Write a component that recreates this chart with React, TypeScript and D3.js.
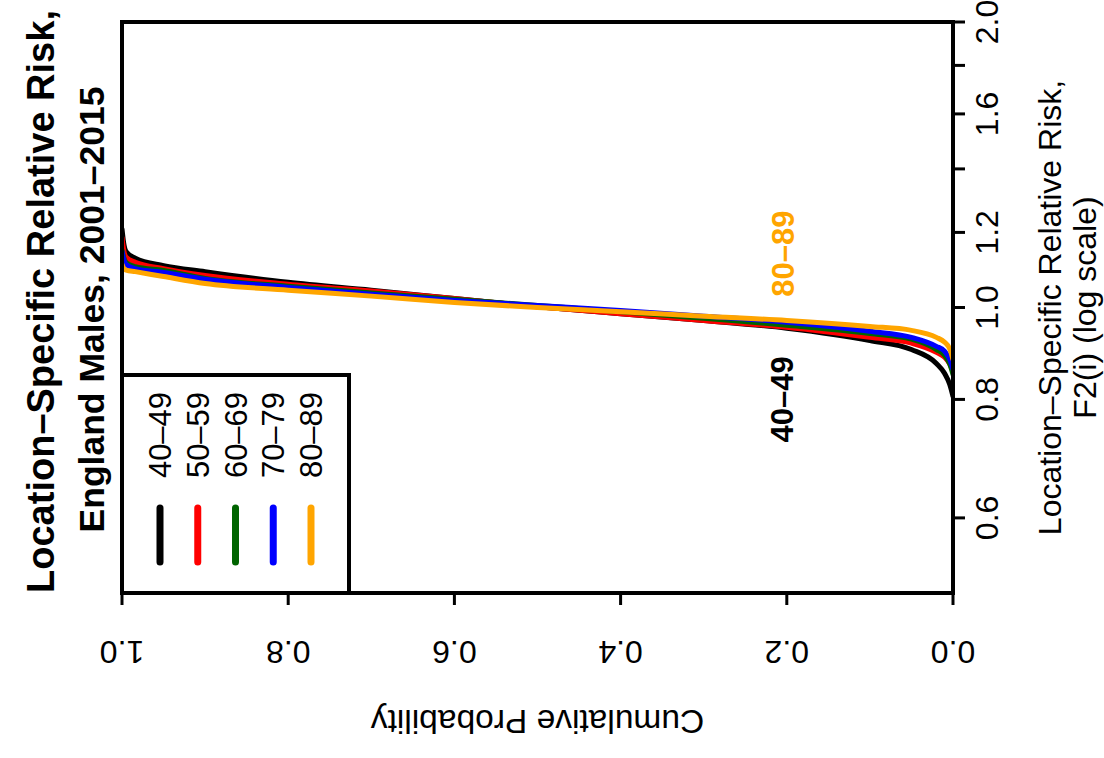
import React from "react";
import * as d3 from "d3";

const probs = [1, 0.998, 0.995, 0.984, 0.95, 0.9, 0.8, 0.7, 0.6, 0.5, 0.4, 0.3, 0.2, 0.1, 0.05, 0.02, 0.01, 0.004, 0];
const age4049 = [1.21, 1.17, 1.145, 1.127, 1.107, 1.091, 1.063, 1.043, 1.022, 1.002, 0.985, 0.969, 0.951, 0.923, 0.903, 0.873, 0.852, 0.83, 0.806];
const age5059 = [1.185, 1.15, 1.13, 1.116, 1.099, 1.081, 1.058, 1.041, 1.022, 1.002, 0.985, 0.969, 0.953, 0.93, 0.917, 0.897, 0.886, 0.872, 0.857];
const age6069 = [1.15, 1.13, 1.115, 1.104, 1.094, 1.073, 1.053, 1.036, 1.02, 1.005, 0.99, 0.974, 0.958, 0.939, 0.926, 0.903, 0.89, 0.872, 0.85];
const age7079 = [1.146, 1.125, 1.11, 1.099, 1.089, 1.071, 1.05, 1.033, 1.017, 1.005, 0.993, 0.979, 0.965, 0.944, 0.93, 0.91, 0.899, 0.882, 0.861];
const age8089 = [1.11, 1.1, 1.095, 1.091, 1.078, 1.06, 1.043, 1.028, 1.012, 1.0, 0.99, 0.979, 0.969, 0.955, 0.946, 0.93, 0.919, 0.905, 0.881];

const seriesNames = ["40–49", "50–59", "60–69", "70–79", "80–89"];
const seriesValues = [age4049, age5059, age6069, age7079, age8089];
const seriesColors = ["#000000", "#FF0000", "#006400", "#0000FF", "#FFA500"];

const xTicks = [0, 0.2, 0.4, 0.6, 0.8, 1.0];
const yTicks = [0.6, 0.8, 1.0, 1.2, 1.4, 1.6, 1.8, 2.0];
const yTickLabels = [0.6, 0.8, 1.0, 1.2, 1.6, 2.0];

const W = 1104;
const H = 758;
const L = 122, R = 953, T = 22, B = 593;
const FONT = "'Liberation Sans', Arial, Helvetica, sans-serif";

export default function App() {
  const x = d3.scaleLinear().domain([1, 0]).range([L, R]);
  const y = d3.scaleLog().domain([0.5, 2.0]).range([B, T]);
  const line = d3
    .line<[number, number]>()
    .x((d) => x(d[0]))
    .y((d) => y(d[1]))
    .curve(d3.curveMonotoneX);

  const legX = d3.scaleLinear().domain([0, 4]).range([160, 311]);

  return (
    <svg
      width={W}
      height={H}
      style={{ position: "absolute", left: 0, top: 0, background: "#fff" }}
      fontFamily={FONT}
    >
      <rect x={0} y={0} width={W} height={H} fill="#fff" />
      <defs>
        <clipPath id="plotclip">
          <rect x={L} y={T} width={R - L} height={B - T} />
        </clipPath>
      </defs>
      {/* curves */}
      <g clipPath="url(#plotclip)">
        {seriesValues.map((vals, i) => (
          <path
            key={i}
            d={line(probs.map((p, j) => [p, vals[j]] as [number, number])) || ""}
            fill="none"
            stroke={seriesColors[i]}
            strokeWidth={5}
            strokeLinecap="round"
            strokeLinejoin="round"
          />
        ))}
      </g>

      {/* inner labels */}
      <text
        transform={`translate(${x(0.2) - 4},${y(1.14)}) rotate(-90)`}
        textAnchor="middle"
        dy="0.36em"
        fontSize={31}
        fontWeight="bold"
        fill="#FFA500"
      >
        80–89
      </text>
      <text
        transform={`translate(${x(0.2) - 5},${y(0.8)}) rotate(-90)`}
        textAnchor="middle"
        dy="0.36em"
        fontSize={31}
        fontWeight="bold"
        fill="#000"
      >
        40–49
      </text>

      {/* legend */}
      <rect x={L} y={375} width={349 - L} height={B - 375} fill="#fff" stroke="#000" strokeWidth={4} />
      {seriesNames.map((n, i) => (
        <g key={n}>
          <text
            transform={`translate(${legX(i)},${435}) rotate(-90)`}
            textAnchor="middle"
            dy="0.36em"
            fontSize={31}
            fill="#000"
          >
            {n}
          </text>
          <line
            x1={legX(i)}
            x2={legX(i)}
            y1={508}
            y2={562}
            stroke={seriesColors[i]}
            strokeWidth={7}
            strokeLinecap="round"
          />
        </g>
      ))}

      {/* box */}
      <rect x={L} y={T} width={R - L} height={B - T} fill="none" stroke="#000" strokeWidth={4} />

      {/* bottom axis */}
      {xTicks.map((t) => (
        <g key={t}>
          <line x1={x(t)} x2={x(t)} y1={B} y2={B + 12} stroke="#000" strokeWidth={3} />
          <text
            transform={`translate(${x(t)},${641}) rotate(180)`}
            textAnchor="middle"
            fontSize={32}
            fill="#000"
          >
            {t.toFixed(1)}
          </text>
        </g>
      ))}
      <text
        transform={`translate(${(L + R) / 2},${710}) rotate(180)`}
        textAnchor="middle"
        fontSize={33.5}
        fill="#000"
      >
        Cumulative Probability
      </text>

      {/* right axis */}
      {yTicks.map((t) => (
        <line key={t} x1={R} x2={R + 12} y1={y(t)} y2={y(t)} stroke="#000" strokeWidth={3} />
      ))}
      {yTickLabels.map((t) => (
        <text
          key={t}
          transform={`translate(${998},${y(t)}) rotate(-90)`}
          textAnchor="middle"
          fontSize={32}
          fill="#000"
        >
          {t.toFixed(1)}
        </text>
      ))}
      <text
        transform={`translate(${1061},${(T + B) / 2}) rotate(-90)`}
        textAnchor="middle"
        fontSize={32}
        fill="#000"
      >
        Location–Specific Relative Risk,
      </text>
      <text
        transform={`translate(${1096},${(T + B) / 2}) rotate(-90)`}
        textAnchor="middle"
        fontSize={32}
        fill="#000"
      >
        F2(i) (log scale)
      </text>

      {/* left title */}
      <text
        transform={`translate(${54},${(T + B) / 2 - 6}) rotate(-90)`}
        textAnchor="middle"
        fontSize={38}
        fontWeight="bold"
        fill="#000"
      >
        Location–Specific Relative Risk,
      </text>
      <text
        transform={`translate(${104},${(T + B) / 2 + 2}) rotate(-90)`}
        textAnchor="middle"
        fontSize={35.5}
        fontWeight="bold"
        fill="#000"
      >
        England Males, 2001–2015
      </text>
    </svg>
  );
}
